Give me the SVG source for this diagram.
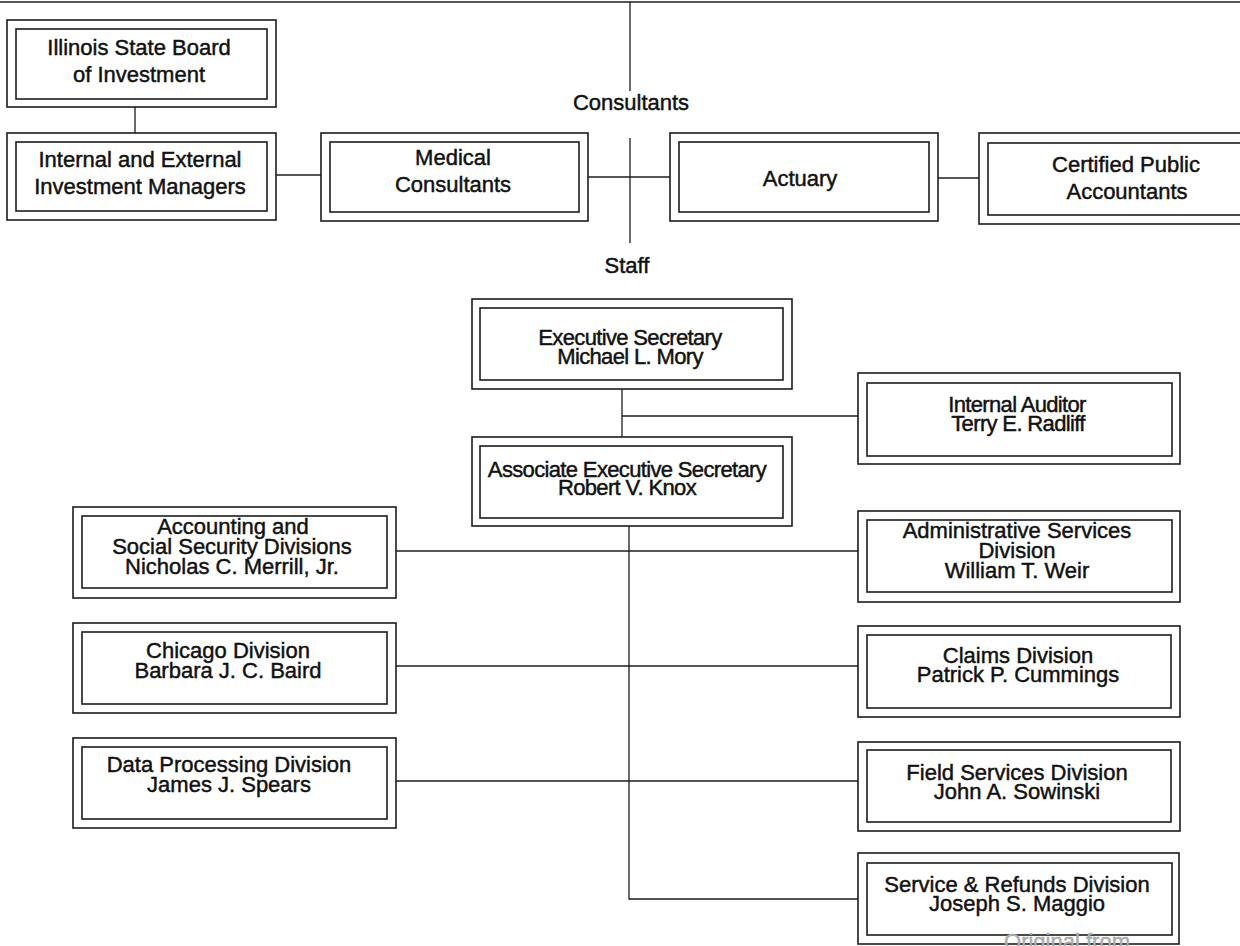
<svg xmlns="http://www.w3.org/2000/svg" width="1240" height="946" viewBox="0 0 1240 946">
<style>
rect{fill:none;stroke:#1c1c1c;stroke-width:1.6}
.conn line,.conn polyline{stroke:#1c1c1c;stroke-width:1.3;fill:none}
text{font-family:"Liberation Sans",Arial,Helvetica,sans-serif;font-size:22px;fill:#111;stroke:#111;stroke-width:0.45;text-anchor:middle}
.c{letter-spacing:-0.65px}
.wm{fill:#b0b0b0;stroke:#a0a0a0;stroke-width:0.4}
</style>
<rect x="0" y="0" width="1240" height="946" style="fill:#fff;stroke:none"/>
<g class="conn" id="connectors">
<line x1="0" y1="2" x2="1240" y2="2"/>
<line x1="630" y1="2" x2="630" y2="91"/>
<line x1="630" y1="138" x2="630" y2="243"/>
<line x1="135" y1="107" x2="135" y2="133"/>
<line x1="276" y1="175" x2="321" y2="175"/>
<line x1="588" y1="177" x2="670" y2="177"/>
<line x1="938" y1="178" x2="979" y2="178"/>
<line x1="622" y1="389" x2="622" y2="437"/>
<line x1="622" y1="416" x2="858" y2="416"/>
<polyline points="629,526 629,899 858,899"/>
<line x1="396" y1="551" x2="858" y2="551"/>
<line x1="396" y1="666" x2="858" y2="666"/>
<line x1="396" y1="781" x2="858" y2="781"/>
</g>
<text x="631" y="110">Consultants</text>
<text x="627" y="273">Staff</text>
<g id="isbi">
<rect x="7" y="20" width="269" height="87"/><rect x="16" y="29" width="251" height="70"/>
<text x="139" y="55">Illinois State Board</text><text x="139" y="82">of Investment</text>
</g>
<g id="managers">
<rect x="7" y="133" width="269" height="87"/><rect x="16" y="142" width="251" height="69"/>
<text x="140" y="167">Internal and External</text><text x="140" y="194">Investment Managers</text>
</g>
<g id="medical">
<rect x="321" y="133" width="267" height="88"/><rect x="330" y="142" width="249" height="70"/>
<text x="453" y="165">Medical</text><text x="453" y="192">Consultants</text>
</g>
<g id="actuary">
<rect x="670" y="133" width="268" height="88"/><rect x="679" y="142" width="250" height="70"/>
<text x="800" y="186">Actuary</text>
</g>
<g id="cpa">
<rect x="979" y="133" width="280" height="91"/><rect x="988" y="143" width="262" height="72"/>
<text x="1126" y="172">Certified Public</text><text x="1127" y="199">Accountants</text>
</g>
<g id="exec">
<rect x="472" y="299" width="320" height="90"/><rect x="480" y="308" width="303" height="72"/>
<text class="c" x="630" y="345">Executive Secretary</text><text class="c" x="630" y="364">Michael L. Mory</text>
</g>
<g id="auditor">
<rect x="858" y="373" width="322" height="91"/><rect x="867" y="383" width="305" height="73"/>
<text class="c" x="1017" y="412">Internal Auditor</text><text class="c" x="1018" y="431">Terry E. Radliff</text>
</g>
<g id="associate">
<rect x="472" y="437" width="320" height="89"/><rect x="480" y="446" width="303" height="72"/>
<text class="c" x="627" y="477">Associate Executive Secretary</text><text class="c" x="627" y="495">Robert V. Knox</text>
</g>
<g id="accounting">
<rect x="73" y="507" width="323" height="91"/><rect x="82" y="516" width="305" height="72"/>
<text x="233" y="534">Accounting and</text><text x="232" y="554">Social Security Divisions</text><text x="232" y="574">Nicholas C. Merrill, Jr.</text>
</g>
<g id="admin">
<rect x="858" y="511" width="322" height="91"/><rect x="867" y="520" width="305" height="72"/>
<text x="1017" y="538">Administrative Services</text><text x="1017" y="558">Division</text><text x="1017" y="578">William T. Weir</text>
</g>
<g id="chicago">
<rect x="73" y="623" width="323" height="90"/><rect x="82" y="632" width="305" height="72"/>
<text x="228" y="658">Chicago Division</text><text x="228" y="678">Barbara J. C. Baird</text>
</g>
<g id="claims">
<rect x="858" y="626" width="322" height="91"/><rect x="867" y="635" width="304" height="73"/>
<text x="1018" y="663">Claims Division</text><text x="1018" y="682">Patrick P. Cummings</text>
</g>
<g id="data">
<rect x="73" y="738" width="323" height="90"/><rect x="82" y="747" width="305" height="72"/>
<text x="229" y="772">Data Processing Division</text><text x="229" y="792">James J. Spears</text>
</g>
<g id="field">
<rect x="858" y="742" width="322" height="89"/><rect x="867" y="750" width="304" height="72"/>
<text x="1017" y="780">Field Services Division</text><text x="1017" y="799">John A. Sowinski</text>
</g>
<g id="service">
<rect x="858" y="853" width="321" height="91"/><rect x="867" y="863" width="305" height="72"/>
<text x="1017" y="892">Service &amp; Refunds Division</text><text x="1017" y="911">Joseph S. Maggio</text>
</g>
<text class="wm" x="1067" y="949">Original from</text>
</svg>
